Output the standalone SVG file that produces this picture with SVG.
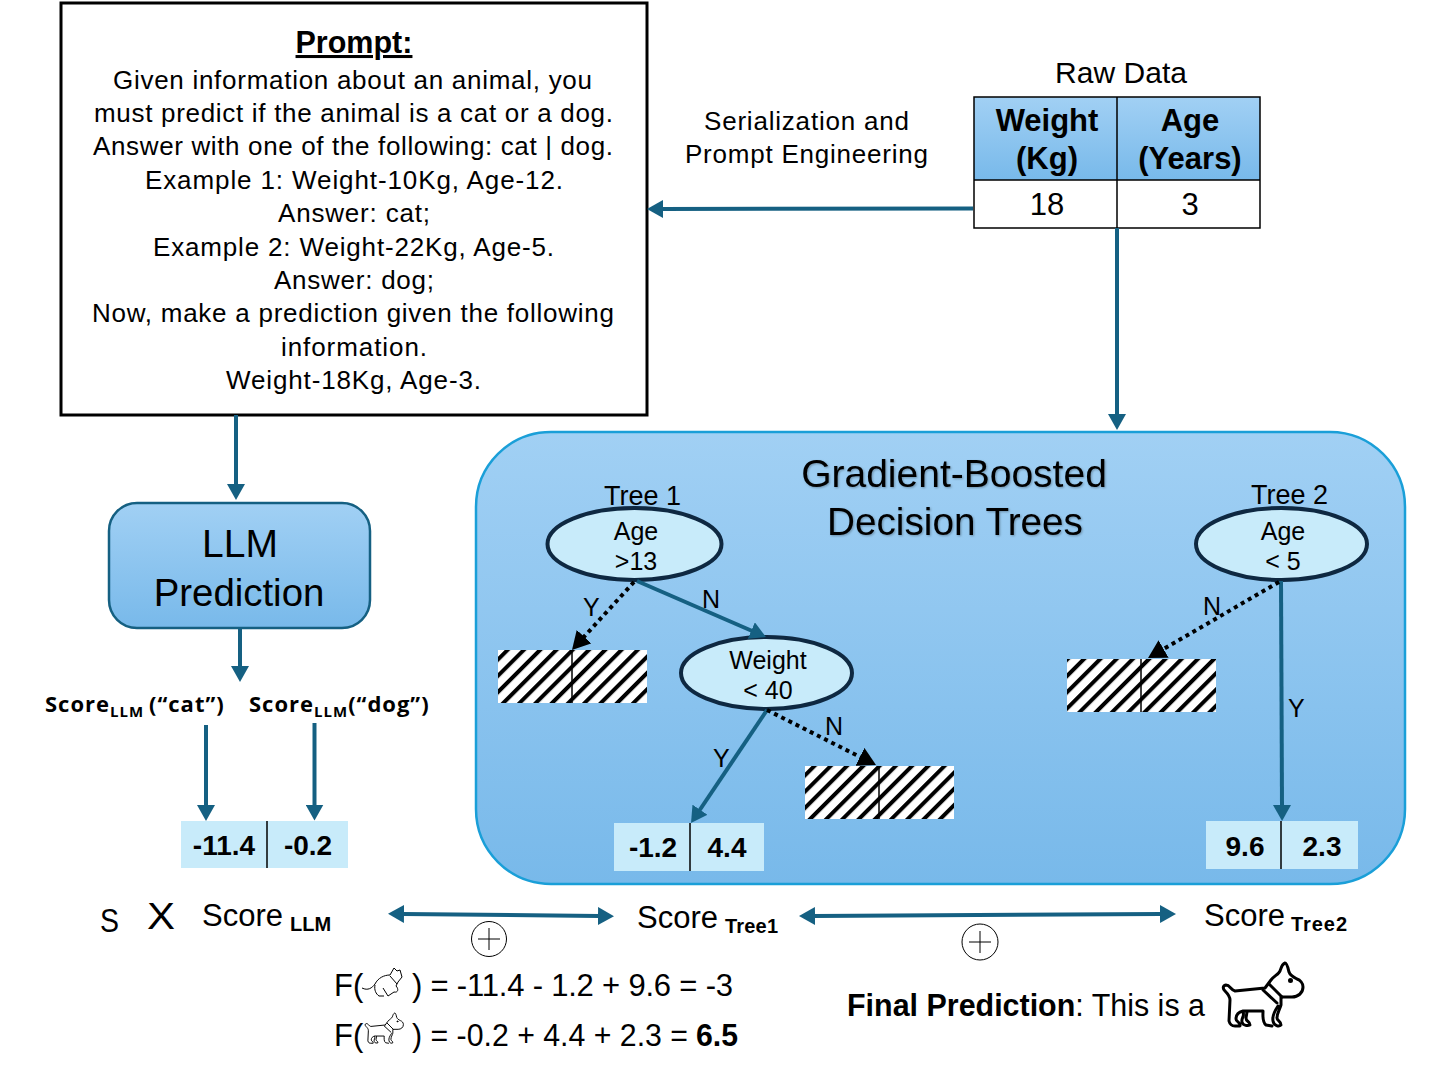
<svg xmlns="http://www.w3.org/2000/svg" width="1440" height="1080" viewBox="0 0 1440 1080">
<style>
text{font-family:"Liberation Sans",Arial,sans-serif;fill:#000}
.p{font-size:26px}
.c{text-anchor:middle}
.b{font-weight:700}
.t{font-size:25px}
.tt{font-size:27px}
.v{font-size:28px;font-weight:700;text-anchor:middle}
.h{font-size:31px}
.sc{font-size:31px}
.sub{font-size:20px;font-weight:700}
.f{font-size:31px}
.lab{font-family:"Open Sans","Liberation Sans",sans-serif;font-size:22px;font-weight:700}
.con{fill:none;stroke:#156082;stroke-width:4}
.dot{fill:none;stroke:#000;stroke-width:4;stroke-dasharray:4 4}
.ell{fill:#c8ebfa;stroke:#0e2841;stroke-width:4}
.val{fill:#c8ebfa}
.div{stroke:#000;stroke-width:1.5}
.hat{fill:url(#hatch)}
.ic{fill:none;stroke:#000;stroke-linejoin:round;stroke-linecap:round}
.op{fill:#fff;stroke:#000;stroke-width:1}
</style>
<defs>
<linearGradient id="grad" x1="0" y1="0" x2="0" y2="1"><stop offset="0" stop-color="#a1d0f4"/><stop offset="1" stop-color="#78b9ea"/></linearGradient>
<pattern id="hatch" width="11.5" height="11.5" patternUnits="userSpaceOnUse" patternTransform="rotate(-45)"><rect width="11.5" height="11.5" fill="#fff"/><rect width="11.5" height="4" fill="#000"/></pattern>
<marker id="a" viewBox="0 0 16 18" refX="1" refY="9" markerWidth="16" markerHeight="18" markerUnits="userSpaceOnUse" orient="auto-start-reverse"><path d="M0 0L16 9L0 18Z" fill="#156082"/></marker>
<marker id="k" viewBox="0 0 18 20" refX="3" refY="10" markerWidth="18" markerHeight="20" markerUnits="userSpaceOnUse" orient="auto"><path d="M0 0L18 10L0 20Z" fill="#000"/></marker>
<filter id="sh" x="-5%" y="-5%" width="110%" height="110%"><feDropShadow dx="1" dy="1" stdDeviation="1" flood-color="#000" flood-opacity=".3"/></filter>
<g id="dog" class="ic"><path d="M1265 988L1235 991C1231 990 1230 985 1226 985C1222 986 1223 989 1225 991C1228 994 1230 996 1230 1000L1229 1021C1230 1025 1232 1026 1235 1026L1240 1026C1241 1022 1236 1022 1236 1019C1236 1015 1239 1012 1243 1011L1263 1011C1263 1016 1262 1022 1266 1025L1272 1026M1243 1012C1245 1016 1241 1018 1242 1022C1243 1026 1248 1026 1250 1025C1250 1021 1246 1022 1246 1018L1247 1012M1278 1006C1274 1012 1272 1016 1273 1021C1274 1026 1279 1027 1281 1025C1281 1021 1277 1021 1277 1018C1277 1013 1280 1009 1281 1005L1281 997L1292 997C1298 997 1303 993 1303 987C1303 983 1300 980 1297 979C1293 977 1290 975 1289 972C1288 968 1287 963 1285 963C1282 964 1281 968 1280 971C1279 974 1274 976 1271 980L1265 988"/><path d="M1269 984L1282 997M1263 990L1277 1003"/><circle cx="1290.5" cy="980.5" r="1" fill="#000"/></g>
</defs>

<g id="gbdt"><rect x="476" y="432" width="929" height="452" rx="75" fill="url(#grad)" stroke="#1a9fd8" stroke-width="2.5"/><text x="954" y="487" class="c" font-size="39" filter="url(#sh)">Gradient-Boosted</text><text x="955" y="534.500" class="c" font-size="38.700" filter="url(#sh)">Decision Trees</text></g>

<g id="prompt"><rect x="61" y="3" width="586" height="412" fill="#fff" stroke="#000" stroke-width="3"/>
<text x="354" y="53" class="c b" font-size="30.500" text-decoration="underline">Prompt:</text>
<text x="113" y="88.500" class="p" textLength="479">Given information about an animal, you</text>
<text x="94" y="122" class="p" textLength="519">must predict if the animal is a cat or a dog.</text>
<text x="93" y="155" class="p" textLength="520">Answer with one of the following: cat | dog.</text>
<text x="145" y="188.500" class="p" textLength="418">Example 1: Weight-10Kg, Age-12.</text>
<text x="278" y="222" class="p" textLength="152">Answer: cat;</text>
<text x="153" y="255.500" class="p" textLength="401">Example 2: Weight-22Kg, Age-5.</text>
<text x="274" y="288.500" class="p" textLength="160">Answer: dog;</text>
<text x="92" y="322" class="p" textLength="522">Now, make a prediction given the following</text>
<text x="281" y="355.500" class="p" textLength="146">information.</text>
<text x="226" y="389" class="p" textLength="255">Weight-18Kg, Age-3.</text></g>

<g id="serialization"><text x="704" y="129.500" class="p" textLength="205">Serialization and</text><text x="685" y="163" class="p" textLength="243">Prompt Engineering</text></g>

<g id="raw-data"><text x="1055" y="82.500" font-size="30" textLength="132">Raw Data</text>
<rect x="974" y="97" width="286" height="83" fill="url(#grad)"/><rect x="974" y="180" width="286" height="48" fill="#fff"/>
<path d="M974 97H1260V228H974ZM974 180H1260M1117 97V228" fill="none" stroke="#000" stroke-width="1.5"/>
<text x="1047" y="131" class="c b h">Weight</text><text x="1047" y="169" class="c b h">(Kg)</text>
<text x="1190" y="131" class="c b h">Age</text><text x="1190" y="169" class="c b h">(Years)</text>
<text x="1047" y="215" class="c h">18</text><text x="1190" y="215" class="c h">3</text></g>

<g id="llm"><rect x="109" y="503" width="261" height="125" rx="28" fill="url(#grad)" stroke="#156082" stroke-width="2.500"/><text x="240" y="556.500" class="c" font-size="39">LLM</text><text x="239" y="605.500" class="c" font-size="38.400">Prediction</text></g>

<g id="score-labels"><text x="45" y="712" class="lab" letter-spacing="1">Score<tspan font-size="15" dy="5">LLM </tspan><tspan dy="-5">(“cat”)</tspan></text><text x="249" y="712" class="lab" letter-spacing="1">Score<tspan font-size="15" dy="5">LLM</tspan><tspan dy="-5">(“dog”)</tspan></text></g>

<g id="llm-values"><rect x="181" y="821" width="167" height="47" class="val"/><path d="M267 821V868" class="div"/><text x="224" y="855" class="v">-11.4</text><text x="308" y="855" class="v">-0.2</text></g>

<g id="tree1-root"><text x="642.500" y="505" class="c tt">Tree 1</text><ellipse cx="634.500" cy="544" rx="87" ry="36" class="ell"/><text x="636" y="540" class="c t">Age</text><text x="636" y="570" class="c t">&gt;13</text></g>
<g id="tree1-weight"><ellipse cx="766.500" cy="673" rx="85.500" ry="36" class="ell"/><text x="768" y="669" class="c t">Weight</text><text x="768" y="699" class="c t">&lt; 40</text></g>
<g id="tree2-root"><text x="1289.500" y="504" class="c tt">Tree 2</text><ellipse cx="1281.500" cy="544" rx="85.500" ry="36" class="ell"/><text x="1283" y="540" class="c t">Age</text><text x="1283" y="570" class="c t">&lt; 5</text></g>

<g id="leaf-hidden-1"><rect x="498" y="650" width="149" height="53" class="hat"/><path d="M572 650V703" class="div"/></g>
<g id="leaf-hidden-2"><rect x="805" y="766" width="149" height="53" class="hat"/><path d="M879 766V819" class="div"/></g>
<g id="leaf-hidden-3"><rect x="1067" y="659" width="149" height="53" class="hat"/><path d="M1141 659V712" class="div"/></g>
<g id="leaf-tree1"><rect x="614" y="823" width="150" height="48" class="val"/><path d="M690 823V871" class="div"/><text x="653" y="857" class="v">-1.2</text><text x="727" y="857" class="v">4.4</text></g>
<g id="leaf-tree2"><rect x="1206" y="821" width="152" height="48" class="val"/><path d="M1281 821V869" class="div"/><text x="1245" y="856" class="v">9.6</text><text x="1322" y="856" class="v">2.3</text></g>

<g id="connectors">
<path d="M236 415V485" class="con" marker-end="url(#a)"/>
<path d="M973 208.500L662 209" class="con" marker-end="url(#a)"/>
<path d="M1117 228V415" class="con" marker-end="url(#a)"/>
<path d="M240 628V667" class="con" marker-end="url(#a)"/>
<path d="M206 725V806" class="con" marker-end="url(#a)"/>
<path d="M314.500 723V805.500" class="con" marker-end="url(#a)"/>
<path d="M637 581L752.200 631" class="con" marker-end="url(#a)"/>
<path d="M767 710L699.400 810.500" class="con" marker-end="url(#a)"/>
<path d="M1281 581L1282 806" class="con" marker-end="url(#a)"/>
<path d="M403 914L599 916" class="con" marker-start="url(#a)" marker-end="url(#a)"/>
<path d="M814 916L1161 914" class="con" marker-start="url(#a)" marker-end="url(#a)"/>
<path d="M634 582L582.100 638.900" class="dot" marker-end="url(#k)"/>
<path d="M767 710L862.600 758.200" class="dot" marker-end="url(#k)"/>
<path d="M1279 582L1161 650.500" class="dot" marker-end="url(#k)"/>
</g>

<g id="edge-labels">
<text x="583" y="616" class="t">Y</text><text x="702" y="608" class="t">N</text><text x="713" y="767" class="t">Y</text><text x="825" y="735" class="t">N</text><text x="1203" y="615" class="t">N</text><text x="1288" y="717" class="t">Y</text></g>

<g id="score-llm"><text x="100" y="932" font-size="33" textLength="19" lengthAdjust="spacingAndGlyphs">S</text><text x="147" y="929" font-size="36" textLength="28" lengthAdjust="spacingAndGlyphs">X</text><text x="202" y="926" class="sc">Score</text><text x="290" y="931" class="sub">LLM</text></g>
<g id="score-tree1"><text x="637" y="928" class="sc">Score</text><text x="725" y="933" class="sub" textLength="53">Tree1</text></g>
<g id="score-tree2"><text x="1204" y="926" class="sc">Score</text><text x="1291" y="931" class="sub" textLength="56">Tree2</text></g>

<g id="plus-1"><circle cx="489" cy="939" r="17.500" class="op"/><path d="M478 939H500M489 928V950" class="op"/></g>
<g id="plus-2"><circle cx="980" cy="942" r="18" class="op"/><path d="M969 942H991M980 931V953" class="op"/></g>

<g id="formula-cat"><text x="334" y="996" class="f">F(</text><path d="M362 988C368 991 372 988 375 984C378 978 384 975 390 975L394 968L397 971L400 970L402 977L398 982L396 986C399 989 398 993 394 992M390 976L397 984M375 985C374 990 376 994 379 996L384 996M383 988L388 996L394 992" fill="none" stroke="#000" stroke-width="1"/><text x="412" y="996" class="f" textLength="321">) = -11.4 - 1.2 + 9.6 = -3</text></g>
<g id="formula-dog"><text x="334" y="1046" class="f">F(</text><use href="#dog" stroke-width="2" transform="translate(365 1013) scale(.48) translate(-1223 -963)"/><text x="412" y="1046" class="f" textLength="276" lengthAdjust="spacingAndGlyphs">) = -0.2 + 4.4 + 2.3 =</text><text x="696" y="1046" class="f b" textLength="42" lengthAdjust="spacingAndGlyphs">6.5</text></g>
<g id="final"><text x="847" y="1016" class="f" textLength="358" lengthAdjust="spacingAndGlyphs"><tspan class="b">Final Prediction</tspan>: This is a</text><use href="#dog" stroke-width="3"/></g>
</svg>
